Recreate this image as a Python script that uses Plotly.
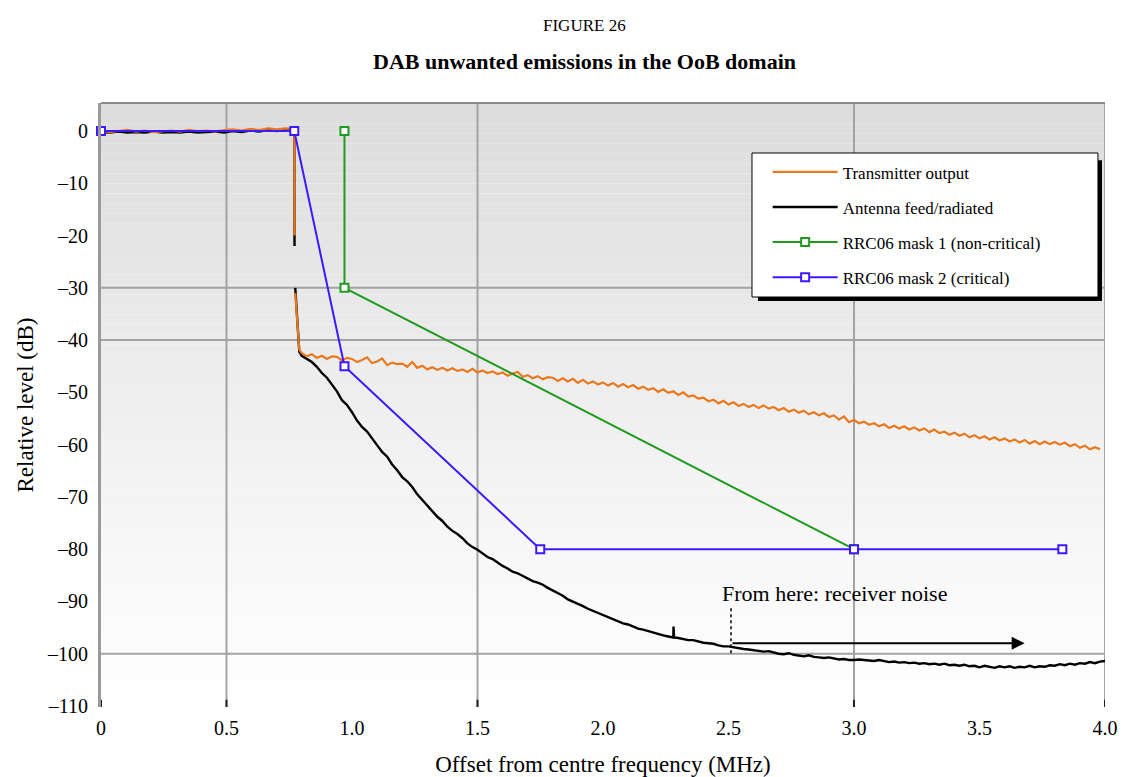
import plotly.graph_objects as go

# ---- data -----------------------------------------------------------------
# in-band part (MHz offset, dB)
inband_freq = [0.00, 0.035, 0.07, 0.105, 0.14, 0.175, 0.21, 0.245, 0.28, 0.315, 0.35,
               0.385, 0.42, 0.455, 0.49, 0.525, 0.56, 0.595, 0.63, 0.665, 0.70, 0.735, 0.77]
inband_tx = [0.1, -0.2, 0.0, 0.2, -0.1, 0.1, -0.2, 0.0, 0.1, -0.1, 0.2,
             0.0, 0.1, -0.1, 0.2, 0.3, 0.1, 0.4, 0.2, 0.5, 0.3, 0.5, 0.4]
inband_ant = [-0.2, -0.3, -0.1, -0.3, -0.2, -0.3, -0.1, -0.3, -0.2, -0.3, -0.1,
              -0.3, -0.2, -0.1, -0.3, 0.0, -0.2, 0.1, -0.1, 0.2, 0.0, 0.2, 0.1]

# shoulder drop at the channel edge
edge_freq = [0.771, None, 0.774, 0.79]
edge_tx = [-20.0, None, -31.0, -41.8]
edge_ant = [-22.0, None, -30.0, -42.2]

# transmitter output beyond the channel edge
tx_oob_freq = [
    0.80, 0.82, 0.84, 0.86, 0.88, 0.90, 0.92, 0.94, 0.96, 0.98,
    1.00, 1.02, 1.04, 1.06, 1.08, 1.10, 1.12, 1.14, 1.16, 1.18,
    1.20, 1.22, 1.24, 1.26, 1.28, 1.30, 1.32, 1.34, 1.36, 1.38,
    1.40, 1.42, 1.44, 1.46, 1.48, 1.50, 1.52, 1.54, 1.56, 1.58,
    1.60, 1.62, 1.64, 1.66, 1.68, 1.70, 1.72, 1.74, 1.76, 1.78,
    1.80, 1.82, 1.84, 1.86, 1.88, 1.90, 1.92, 1.94, 1.96, 1.98,
    2.00, 2.02, 2.04, 2.06, 2.08, 2.10, 2.12, 2.14, 2.16, 2.18,
    2.20, 2.22, 2.24, 2.26, 2.28, 2.30, 2.32, 2.34, 2.36, 2.38,
    2.40, 2.42, 2.44, 2.46, 2.48, 2.50, 2.52, 2.54, 2.56, 2.58,
    2.60, 2.62, 2.64, 2.66, 2.68, 2.70, 2.72, 2.74, 2.76, 2.78,
    2.80, 2.82, 2.84, 2.86, 2.88, 2.90, 2.92, 2.94, 2.96, 2.98,
    3.00, 3.02, 3.04, 3.06, 3.08, 3.10, 3.12, 3.14, 3.16, 3.18,
    3.20, 3.22, 3.24, 3.26, 3.28, 3.30, 3.32, 3.34, 3.36, 3.38,
    3.40, 3.42, 3.44, 3.46, 3.48, 3.50, 3.52, 3.54, 3.56, 3.58,
    3.60, 3.62, 3.64, 3.66, 3.68, 3.70, 3.72, 3.74, 3.76, 3.78,
    3.80, 3.82, 3.84, 3.86, 3.88, 3.90, 3.92, 3.94, 3.96, 3.98,
]
tx_oob = [
    -42.5, -43.1, -42.7, -43.4, -43.0, -43.6, -43.1, -43.2, -43.9, -43.4,
    -43.6, -44.2, -43.8, -43.3, -44.4, -44.1, -43.5, -44.8, -44.3, -44.6,
    -44.5, -45.1, -44.2, -45.3, -44.9, -45.6, -45.2, -45.7, -45.3, -45.8,
    -45.4, -45.9, -45.6, -46.1, -45.5, -46.2, -45.8, -46.3, -46.0, -46.5,
    -46.2, -46.8, -46.4, -46.1, -47.0, -46.7, -47.3, -46.9, -47.5, -47.1,
    -47.2, -47.8, -47.3, -47.9, -47.4, -48.2, -47.6, -48.3, -47.9, -48.5,
    -48.1, -48.7, -48.2, -48.9, -48.4, -49.0, -48.6, -49.3, -48.9, -49.5,
    -49.2, -49.9, -49.4, -50.1, -49.8, -50.5, -50.0, -50.8, -50.6, -51.2,
    -51.0, -51.7, -51.4, -52.1, -51.6, -52.3, -51.9, -52.6, -52.2, -52.8,
    -52.4, -53.0, -52.5, -53.1, -52.8, -53.4, -53.0, -53.7, -53.3, -53.9,
    -53.5, -54.2, -53.8, -54.4, -54.0, -54.7, -54.4, -55.2, -54.6, -55.7,
    -55.3, -55.9, -55.6, -56.2, -55.9, -56.5, -56.1, -56.8, -56.4, -56.9,
    -56.5, -57.1, -56.7, -57.3, -56.9, -57.6, -57.1, -57.8, -57.5, -58.1,
    -57.7, -58.3, -57.9, -58.6, -58.2, -58.8, -58.4, -59.0, -58.6, -59.2,
    -58.8, -59.4, -59.0, -59.6, -59.1, -59.8, -59.3, -59.9, -59.4, -59.9,
    -59.5, -60.0, -59.6, -60.3, -59.9, -60.6, -60.2, -60.9, -60.5, -60.9,
]

# antenna feed / radiated beyond the channel edge
ant_oob_freq = [
    0.80, 0.82, 0.84, 0.86, 0.88, 0.90, 0.92, 0.94, 0.96, 0.98,
    1.00, 1.02, 1.04, 1.06, 1.08, 1.10, 1.12, 1.14, 1.16, 1.18,
    1.20, 1.22, 1.24, 1.26, 1.28, 1.30, 1.32, 1.34, 1.36, 1.38,
    1.40, 1.42, 1.44, 1.46, 1.48, 1.50, 1.52, 1.54, 1.56, 1.58,
    1.60, 1.62, 1.64, 1.66, 1.68, 1.70, 1.72, 1.74, 1.76, 1.78,
    1.80, 1.82, 1.84, 1.86, 1.88, 1.90, 1.92, 1.94, 1.96, 1.98,
    2.00, 2.02, 2.04, 2.06, 2.08, 2.10, 2.12, 2.14, 2.16, 2.18,
    2.20, 2.22, 2.24, 2.26, 2.28, 2.281, 2.283, 2.30, 2.32, 2.34, 2.36, 2.38,
    2.40, 2.42, 2.44, 2.46, 2.48, 2.50, 2.52, 2.54, 2.56, 2.58,
    2.60, 2.62, 2.64, 2.66, 2.68, 2.70, 2.72, 2.74, 2.76, 2.78,
    2.80, 2.82, 2.84, 2.86, 2.88, 2.90, 2.92, 2.94, 2.96, 2.98,
    3.00, 3.02, 3.04, 3.06, 3.08, 3.10, 3.12, 3.14, 3.16, 3.18,
    3.20, 3.22, 3.24, 3.26, 3.28, 3.30, 3.32, 3.34, 3.36, 3.38,
    3.40, 3.42, 3.44, 3.46, 3.48, 3.50, 3.52, 3.54, 3.56, 3.58,
    3.60, 3.62, 3.64, 3.66, 3.68, 3.70, 3.72, 3.74, 3.76, 3.78,
    3.80, 3.82, 3.84, 3.86, 3.88, 3.90, 3.92, 3.94, 3.96, 3.98,
    4.00,
]
ant_oob = [
    -43.0, -43.6, -44.2, -45.1, -46.3, -47.2, -48.6, -49.8, -51.5, -52.4,
    -53.8, -55.4, -56.6, -57.5, -58.8, -60.2, -61.4, -62.3, -63.8, -64.9,
    -66.2, -67.0, -68.1, -69.5, -70.6, -71.6, -72.9, -73.8, -74.6, -75.7,
    -76.5, -77.1, -77.9, -78.9, -79.6, -80.1, -80.8, -81.5, -81.9, -82.6,
    -83.2, -83.7, -84.3, -84.6, -85.1, -85.7, -86.1, -86.4, -86.8, -87.4,
    -87.9, -88.5, -88.9, -89.6, -90.0, -90.4, -90.9, -91.4, -91.8, -92.3,
    -92.7, -93.0, -93.4, -93.9, -94.2, -94.4, -94.8, -95.2, -95.4, -95.7,
    -96.0, -96.2, -96.5, -96.7, -96.9, -94.8, -96.9, -97.0, -97.2, -97.4, -97.4, -97.7,
    -97.9, -98.0, -98.1, -98.4, -98.6, -98.6, -98.8, -99.0, -99.1, -99.2,
    -99.3, -99.5, -99.6, -99.5, -99.8, -100.0, -100.1, -99.9, -100.2, -100.4,
    -100.5, -100.3, -100.6, -100.7, -100.8, -100.7, -100.9, -101.1, -101.0, -101.2,
    -101.2, -101.1, -101.2, -101.3, -101.4, -101.2, -101.4, -101.6, -101.5, -101.7,
    -101.6, -101.8, -101.7, -101.9, -101.8, -102.0, -101.9, -102.1, -101.9, -102.2,
    -102.1, -102.3, -102.1, -102.4, -102.3, -102.6, -102.3, -102.5, -102.7, -102.4,
    -102.6, -102.4, -102.7, -102.5, -102.6, -102.3, -102.6, -102.4, -102.5, -102.2,
    -102.3, -102.0, -102.2, -101.9, -102.1, -101.8, -101.9, -101.6, -101.8, -101.5,
    -101.4,
]

# RRC06 spectrum masks
mask1_freq = [0.97, 0.97, 3.0]
mask1_level = [0, -30, -80]
mask2_freq = [0.0, 0.77, 0.97, 1.75, 3.0, 3.83]
mask2_level = [0, 0, -45, -80, -80, -80]

x_tick_vals = [0, 0.5, 1.0, 1.5, 2.0, 2.5, 3.0, 3.5, 4.0]
x_tick_text = ["0", "0.5", "1.0", "1.5", "2.0", "2.5", "3.0", "3.5", "4.0"]
y_tick_vals = [0, -10, -20, -30, -40, -50, -60, -70, -80, -90, -100, -110]
y_tick_text = ["0", "–10", "–20", "–30", "–40", "–50", "–60", "–70", "–80", "–90", "–100", "–110"]

grid_x = [0.5, 1.5, 3.0, 4.0]
grid_y = [-30, -40, -100]
tick_marks_x = [0, 0.5, 1.5, 3.0, 4.0]

# ---- style ------------------------------------------------------------------
FONT = "Liberation Serif"
ORANGE = "#E8791F"
BLACK = "#000000"
GREEN = "#1E9A1E"
BLUE = "#3C19FF"
GRID = "#A3A3A3"

tx_x = inband_freq + edge_freq + tx_oob_freq
tx_y = inband_tx + edge_tx + tx_oob
ant_x = inband_freq + edge_freq + ant_oob_freq
ant_y = inband_ant + edge_ant + ant_oob

fig = go.Figure()

fig.add_trace(go.Scatter(
    x=ant_x, y=ant_y, mode="lines", name="Antenna feed/radiated",
    line=dict(color=BLACK, width=2.4), legendrank=2, legendgroup="b",
    connectgaps=False,
))
fig.add_trace(go.Scatter(
    x=tx_x, y=tx_y, mode="lines", name="Transmitter output",
    line=dict(color=ORANGE, width=2.2), legendrank=1, legendgroup="a",
    connectgaps=False,
))
fig.add_trace(go.Scatter(
    x=mask1_freq, y=mask1_level, mode="lines+markers", name="RRC06 mask 1 (non-critical)",
    line=dict(color=GREEN, width=2),
    marker=dict(symbol="square", size=8, color="white", line=dict(color=GREEN, width=2)),
    legendrank=3, legendgroup="c", cliponaxis=False,
))
fig.add_trace(go.Scatter(
    x=mask2_freq, y=mask2_level, mode="lines+markers", name="RRC06 mask 2 (critical)",
    line=dict(color=BLUE, width=2),
    marker=dict(symbol="square", size=8, color="white", line=dict(color=BLUE, width=2)),
    legendrank=4, legendgroup="d", cliponaxis=False,
))

shapes = []
# vertical grey gradient behind the plot area
n_bands = 60
for i in range(n_bands):
    t0 = i / n_bands
    t1 = (i + 1) / n_bands
    t = (t0 + t1) / 2
    level = int(round(255 - 35 * (t ** 1.1)))
    shapes.append(dict(type="rect", xref="x domain", yref="y domain",
                       x0=0, x1=1, y0=t0, y1=t1, layer="below",
                       fillcolor=f"rgb({level},{level},{level})", line=dict(width=0)))
for gx in grid_x:
    shapes.append(dict(type="line", xref="x", yref="y domain", x0=gx, x1=gx, y0=0, y1=1,
                       layer="below", line=dict(color=GRID, width=2)))
for gy in grid_y:
    shapes.append(dict(type="line", xref="x domain", yref="y", x0=0, x1=1, y0=gy, y1=gy,
                       layer="below", line=dict(color=GRID, width=2)))
# top frame edge
shapes.append(dict(type="line", xref="x domain", yref="y domain", x0=0, x1=1, y0=1, y1=1,
                   layer="below", line=dict(color="#8C8C8C", width=2)))
# small black tick marks on the frequency axis
for tx in tick_marks_x:
    shapes.append(dict(type="line", xref="x", yref="y domain", x0=tx, x1=tx, y0=0, y1=0.012,
                       layer="above", line=dict(color="#222222", width=2)))

# legend panel: drop shadow and white box (paper coordinates)
LEG_X0, LEG_X1, LEG_Y0, LEG_Y1 = 0.6484, 0.9930, 0.6788, 0.9172
shapes.append(dict(type="rect", xref="paper", yref="paper",
                   x0=LEG_X0 + 0.006, x1=LEG_X1 + 0.0040, y0=LEG_Y0 - 0.0066, y1=LEG_Y1 - 0.012,
                   layer="above", fillcolor="black", line=dict(width=0)))
shapes.append(dict(type="rect", xref="paper", yref="paper",
                   x0=LEG_X0, x1=LEG_X1, y0=LEG_Y0, y1=LEG_Y1,
                   layer="above", fillcolor="white", line=dict(color="black", width=1)))

# receiver-noise marker: dotted drop line
shapes.append(dict(type="line", xref="x", yref="y", x0=2.51, x1=2.51, y0=-91.3, y1=-100.3,
                   layer="above", line=dict(color=BLACK, width=1.5, dash="dot")))

annotations = [
    dict(text="FIGURE 26", xref="paper", yref="paper", x=0.482, y=1.129,
         showarrow=False, font=dict(family=FONT, size=17, color="black"),
         xanchor="center", yanchor="middle"),
    dict(text="<b>DAB unwanted emissions in the OoB domain</b>", xref="paper", yref="paper",
         x=0.482, y=1.0695, showarrow=False, font=dict(family=FONT, size=22, color="black"),
         xanchor="center", yanchor="middle"),
    dict(text="From here: receiver noise", xref="x", yref="y", x=2.466, y=-88.4,
         showarrow=False, xanchor="left", yanchor="middle",
         font=dict(family=FONT, size=22, color="black")),
    dict(text="", xref="x", yref="y", axref="x", ayref="y", x=3.68, y=-98.0, ax=2.51, ay=-98.0,
         showarrow=True, arrowhead=2, arrowsize=1.3, arrowwidth=2, arrowcolor=BLACK),
]

fig.update_layout(
    width=1121, height=777,
    margin=dict(l=101, r=16, t=103, b=70, autoexpand=False),
    paper_bgcolor="white",
    plot_bgcolor="white",
    font=dict(family=FONT, color="black"),
    showlegend=True,
    legend=dict(
        x=0.664, y=0.915, xanchor="left", yanchor="top",
        bgcolor="rgba(0,0,0,0)", borderwidth=0,
        font=dict(family=FONT, size=17, color="black"),
        tracegroupgap=10, traceorder="grouped", itemwidth=65,
    ),
    shapes=shapes,
    annotations=annotations,
)

fig.update_xaxes(
    range=[0, 4], tickvals=x_tick_vals, ticktext=x_tick_text,
    showgrid=False, zeroline=False, showline=False, ticks="",
    ticklabelstandoff=7, automargin=False,
    tickfont=dict(family=FONT, size=20, color="black"),
    title=dict(text="Offset from centre frequency (MHz)", standoff=20,
               font=dict(family=FONT, size=23, color="black")),
)
fig.update_yaxes(
    range=[-110.19, 5.36], tickvals=y_tick_vals, ticktext=y_tick_text,
    showgrid=False, zeroline=False, showline=True, linecolor="#9A9A9A", linewidth=3,
    ticks="", ticklabelstandoff=6, automargin=False,
    tickfont=dict(family=FONT, size=20, color="black"),
    title=dict(text="Relative level (dB)", standoff=7,
               font=dict(family=FONT, size=23, color="black")),
)

fig.write_html("out.html")
